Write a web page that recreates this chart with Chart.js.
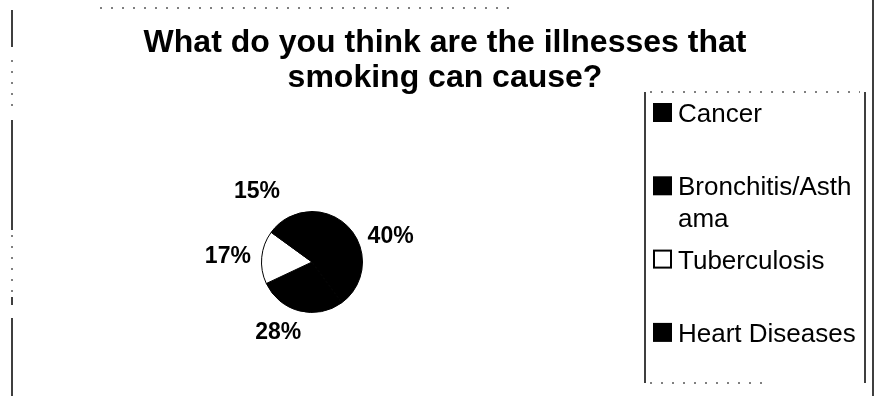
<!DOCTYPE html>
<html>
<head>
<meta charset="utf-8">
<script src="https://cdn.jsdelivr.net/npm/chart.js@4/dist/chart.umd.min.js"></script>
<style>
  html, body { margin: 0; padding: 0; background: #fff; }
  #wrap { width: 875px; height: 396px; }
</style>
</head>
<body>
<div id="wrap"><canvas id="illnessChart" width="875" height="396"></canvas></div>
<script>
// Encuesta: enfermedades que puede causar el tabaco
const titleLines = ['What do you think are the illnesses that', 'smoking can cause?'];
const illnesses = ['Cancer', 'Bronchitis/Asthama', 'Tuberculosis', 'Heart Diseases'];
const shares = [40, 28, 17, 15];
const sliceColors = ['#000000', '#000000', '#ffffff', '#000000'];

// Ajustes finos de las etiquetas de porcentaje (px)
const labelNudge = [[3, -1], [-14, -6], [-5, 2], [-19, 0]];

const FONT = "'Liberation Sans', Arial, sans-serif";

// Marco exterior y caja de la leyenda
const framePlugin = {
    id: 'frame',
    beforeDraw(chart) {
        const ctx = chart.ctx;
        ctx.save();
        ctx.fillStyle = '#fff';
        ctx.fillRect(0, 0, chart.width, chart.height);
        ctx.strokeStyle = '#000';
        ctx.lineWidth = 1.5;
        ctx.beginPath();
        // borde izquierdo cortado en tramos
        [[10, 47], [120, 230], [297, 305], [318, 396]].forEach(([a, b]) => {
            ctx.moveTo(12, a); ctx.lineTo(12, b);
        });
        ctx.moveTo(873, 0); ctx.lineTo(873, 396);
        ctx.moveTo(645, 92); ctx.lineTo(645, 383);
        ctx.moveTo(865, 92); ctx.lineTo(865, 383);
        ctx.stroke();
        ctx.lineWidth = 1;
        ctx.setLineDash([2, 9]);
        ctx.beginPath();
        ctx.moveTo(100, 8); ctx.lineTo(515, 8);
        ctx.moveTo(650, 92); ctx.lineTo(860, 92);
        ctx.moveTo(650, 383); ctx.lineTo(770, 383);
        ctx.moveTo(12, 60); ctx.lineTo(12, 110);
        ctx.moveTo(12, 235); ctx.lineTo(12, 292);
        ctx.stroke();
        ctx.restore();
    }
};

// Título en dos líneas
const titlePlugin = {
    id: 'twoLineTitle',
    afterDraw(chart) {
        const ctx = chart.ctx;
        ctx.save();
        ctx.fillStyle = '#000';
        ctx.font = 'bold 32px ' + FONT;
        ctx.textAlign = 'center';
        ctx.textBaseline = 'alphabetic';
        titleLines.forEach((line, i) => {
            ctx.fillText(line, 445, 52 + i * 35);
        });
        ctx.restore();
    }
};

// Porcentajes fuera de cada sector
const pieLabelsPlugin = {
    id: 'pieLabels',
    afterDatasetsDraw(chart) {
        const ctx = chart.ctx;
        const meta = chart.getDatasetMeta(0);
        const data = chart.data.datasets[0].data;
        ctx.save();
        ctx.fillStyle = '#000';
        ctx.font = 'bold 23px ' + FONT;
        ctx.textAlign = 'center';
        ctx.textBaseline = 'middle';
        meta.data.forEach((arc, i) => {
            const p = arc.getProps(['x', 'y', 'startAngle', 'endAngle', 'outerRadius'], true);
            const mid = (p.startAngle + p.endAngle) / 2;
            const dist = p.outerRadius + 29;
            const x = p.x + Math.cos(mid) * dist + labelNudge[i][0];
            const y = p.y + Math.sin(mid) * dist + labelNudge[i][1];
            ctx.fillText(data[i] + '%', x, y);
        });
        ctx.restore();
    }
};

// Corta el texto por caracteres cuando no cabe
function wrapChars(ctx, text, maxWidth) {
    const lines = [];
    let current = '';
    for (const ch of text) {
        if (current && ctx.measureText(current + ch).width > maxWidth) {
            lines.push(current);
            current = ch;
        } else {
            current += ch;
        }
    }
    if (current) lines.push(current);
    return lines;
}

// Leyenda a la derecha
const sideLegendPlugin = {
    id: 'sideLegend',
    afterDraw(chart) {
        const ctx = chart.ctx;
        const ds = chart.data.datasets[0];
        ctx.save();
        ctx.font = '26px ' + FONT;
        ctx.textBaseline = 'alphabetic';
        ctx.textAlign = 'left';
        chart.data.labels.forEach((label, i) => {
            const baseline = 122 + i * 73.3;
            ctx.fillStyle = ds.backgroundColor[i];
            ctx.strokeStyle = '#000';
            ctx.lineWidth = 2;
            ctx.fillRect(654, baseline - 18, 17, 17);
            ctx.strokeRect(654, baseline - 18, 17, 17);
            ctx.fillStyle = '#000';
            wrapChars(ctx, label, 180).forEach((line, j) => {
                ctx.fillText(line, 678, baseline + j * 32);
            });
        });
        ctx.restore();
    }
};

new Chart(document.getElementById('illnessChart'), {
    type: 'pie',
    data: {
        labels: illnesses,
        datasets: [{
            data: shares,
            backgroundColor: sliceColors,
            borderColor: '#000',
            borderWidth: 1
        }]
    },
    options: {
        responsive: false,
        animation: false,
        devicePixelRatio: 1,
        layout: {
            padding: { left: 261, right: 512, top: 211, bottom: 83 }
        },
        plugins: {
            legend: { display: false },
            title: { display: false },
            tooltip: { enabled: false }
        }
    },
    plugins: [framePlugin, pieLabelsPlugin, titlePlugin, sideLegendPlugin]
});
</script>
</body>
</html>
